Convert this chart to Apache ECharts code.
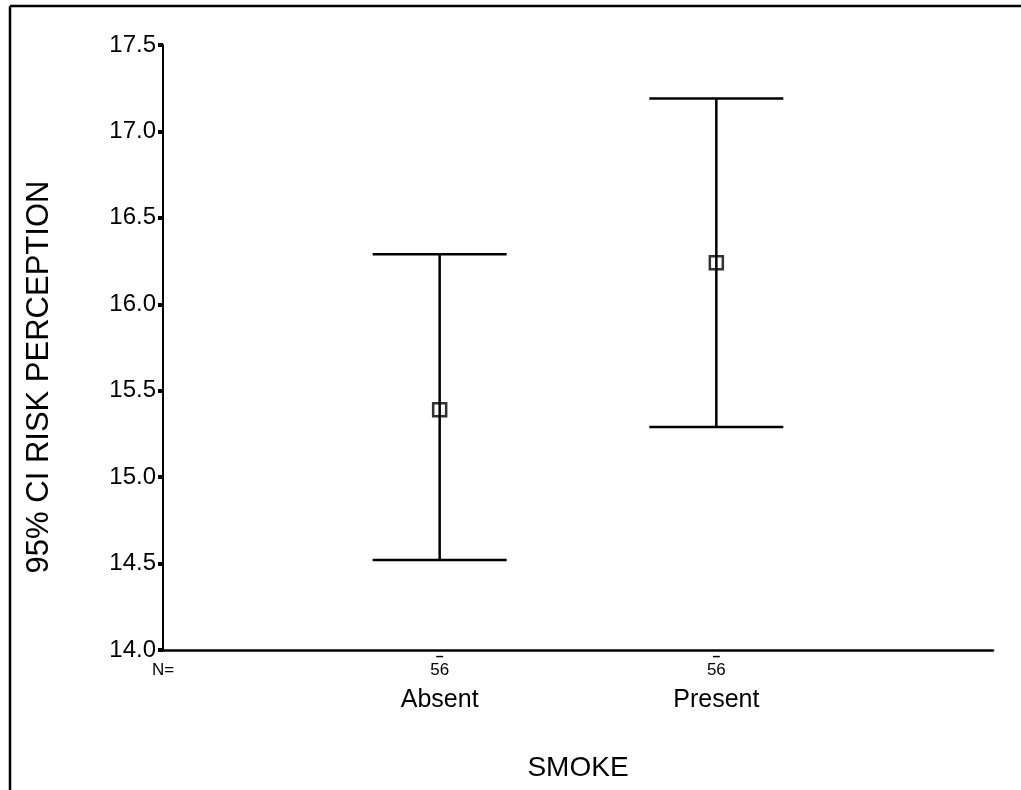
<!DOCTYPE html>
<html>
<head>
<meta charset="utf-8">
<script src="https://cdn.jsdelivr.net/npm/echarts@6/dist/echarts.min.js"></script>
<style>
  html, body { margin: 0; padding: 0; background: #fff; }
  #chart { width: 1021px; height: 790px; }
</style>
</head>
<body>
<div id="chart"></div>
<script>
// Groups shown along the x axis, with sample sizes
const groups = ['Absent', 'Present'];
const counts = [56, 56];
// 95% confidence interval for each group: mean, lower and upper bound
const means = [15.39, 16.24];
const lower = [14.52, 15.29];
const upper = [16.29, 17.19];
// Y axis range and ticks
const yMin = 14.0;
const yMax = 17.5;
const yStep = 0.5;

// x slots: a leading slot for the "N=" caption, one per group, one trailing blank
const slots = ['N='].concat(groups).concat(['']);

const font = 'Liberation Sans, Arial, sans-serif';
const chart = echarts.init(document.getElementById('chart'), null, { renderer: 'canvas' });

const ciData = groups.map((g, i) => [i + 1, lower[i], upper[i]]);
const meanData = groups.map((g, i) => [i + 1, means[i]]);

chart.setOption({
  animation: false,
  backgroundColor: '#ffffff',
  grid: { left: 163, right: 28, top: 45, bottom: 140, containLabel: false },
  xAxis: {
    type: 'category',
    data: slots,
    boundaryGap: false,
    name: 'SMOKE',
    nameLocation: 'middle',
    nameGap: 104,
    nameTextStyle: { color: '#000', fontSize: 28, fontFamily: font },
    axisLine: { show: true, lineStyle: { color: '#000', width: 2.5 } },
    axisTick: { show: false },
    splitLine: { show: false },
    axisLabel: {
      interval: 0,
      margin: 3,
      color: '#000',
      fontFamily: font,
      formatter: function (v, idx) {
        if (idx === 0) return '{blank| }\n{n|N=}';
        if (idx > groups.length) return '';
        return '{dash|\u2013}\n{n|' + counts[idx - 1] + '}\n{g|' + groups[idx - 1] + '}';
      },
      rich: {
        blank: { fontSize: 10, lineHeight: 8, fontFamily: font },
        dash: { fontSize: 14, fontWeight: 'bold', lineHeight: 8, fontFamily: font, color: '#000' },
        n: { fontSize: 17, lineHeight: 18, fontFamily: font, color: '#000' },
        g: { fontSize: 25, lineHeight: 34, fontFamily: font, color: '#000', padding: [8, 0, 0, 0] }
      }
    }
  },
  yAxis: {
    type: 'value',
    min: yMin,
    max: yMax,
    interval: yStep,
    axisLine: { show: true, lineStyle: { color: '#000', width: 2 } },
    axisTick: { show: true, inside: false, length: 5, lineStyle: { color: '#000', width: 4 } },
    splitLine: { show: false },
    axisLabel: {
      margin: 7,
      color: '#000',
      fontSize: 24,
      fontFamily: font,
      formatter: v => v.toFixed(1)
    }
  },
  series: [
    {
      type: 'custom',
      name: 'CI',
      data: ciData,
      encode: { x: 0, y: [1, 2] },
      renderItem: function (params, api) {
        const x = api.value(0);
        const lo = api.coord([x, api.value(1)]);
        const hi = api.coord([x, api.value(2)]);
        const half = 67;
        const style = { stroke: '#000', lineWidth: 2.5, fill: null };
        return {
          type: 'group',
          children: [
            { type: 'line', shape: { x1: lo[0], y1: lo[1], x2: hi[0], y2: hi[1] }, style: style },
            { type: 'line', shape: { x1: hi[0] - half, y1: hi[1], x2: hi[0] + half, y2: hi[1] }, style: style },
            { type: 'line', shape: { x1: lo[0] - half, y1: lo[1], x2: lo[0] + half, y2: lo[1] }, style: style }
          ]
        };
      },
      z: 2
    },
    {
      type: 'scatter',
      name: 'Mean',
      data: meanData,
      symbol: 'rect',
      symbolSize: 13,
      itemStyle: { color: 'rgba(0,0,0,0)', borderColor: '#000', borderWidth: 2.5 },
      z: 3
    }
  ],
  graphic: [
    { type: 'line', shape: { x1: 10, y1: 6, x2: 1021, y2: 6 }, style: { stroke: '#000', lineWidth: 2.5 } },
    { type: 'line', shape: { x1: 10, y1: 6, x2: 10, y2: 790 }, style: { stroke: '#000', lineWidth: 2.5 } },
    {
      type: 'text',
      x: 39,
      y: 377,
      rotation: Math.PI / 2,
      style: {
        text: '95% CI RISK PERCEPTION',
        fill: '#000',
        font: '31px ' + font,
        align: 'center',
        verticalAlign: 'middle'
      }
    }
  ]
});
</script>
</body>
</html>
